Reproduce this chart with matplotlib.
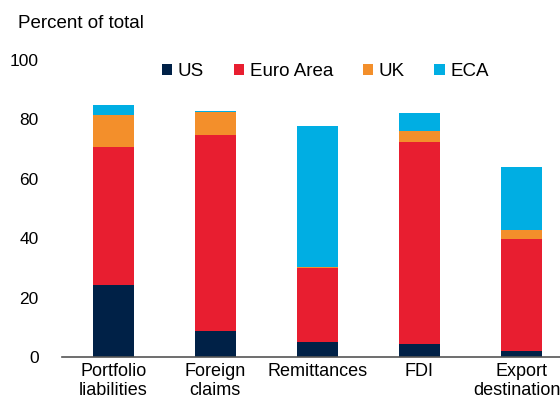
import matplotlib
matplotlib.use("Agg")
import matplotlib.pyplot as plt
from matplotlib.patches import Patch

plt.rcParams['font.family'] = ['Liberation Sans', 'DejaVu Sans']

categories = ["Portfolio\nliabilities", "Foreign\nclaims", "Remittances", "FDI", "Export\ndestinations"]
us = [24.2, 8.9, 5.2, 4.3, 2.1]
euro = [46.6, 65.8, 24.7, 68.2, 37.5]
uk = [10.7, 7.7, 0.5, 3.7, 3.2]
eca = [3.3, 0.4, 47.5, 5.8, 21.3]
yticks = [0, 20, 40, 60, 80, 100]

series = [("US", us, "#002147"), ("Euro Area", euro, "#E81E30"),
          ("UK", uk, "#F38F2B"), ("ECA", eca, "#00AEE3")]

fig = plt.figure(figsize=(5.6, 4.04), dpi=100)
ax = fig.add_axes([0.111, 0.1163, 0.889, 0.7352])

x = list(range(len(categories)))
bottom = [0] * len(categories)
handles = []
for name, vals, col in series:
    ax.bar(x, vals, 0.4, bottom=bottom, color=col, edgecolor='none')
    bottom = [b + v for b, v in zip(bottom, vals)]
    handles.append(Patch(facecolor=col, label=name))

ax.set_xlim(-0.5, 4.38)
ax.set_ylim(0, 100)
ax.set_yticks(yticks)
ax.set_xticks(x)
ax.set_xticklabels(categories, fontsize=13, linespacing=1.15)
ax.tick_params(axis='y', length=0, pad=17, labelsize=12.5)
ax.tick_params(axis='x', length=0, pad=4)
for s in ['top', 'right', 'left']:
    ax.spines[s].set_visible(False)
ax.spines['bottom'].set_color('#555555')
ax.spines['bottom'].set_linewidth(1.2)

ax.legend(handles=handles, ncol=4, frameon=False, fontsize=13.5,
          loc='center left', bbox_to_anchor=(0.185, 0.96),
          handlelength=0.55, handleheight=0.55, handletextpad=0.3,
          columnspacing=1.58, borderaxespad=0)

fig.text(18 / 560, 1 - 23 / 404, "Percent of total", fontsize=13.5, va='center', ha='left')

fig.savefig("out.png", dpi=100)
